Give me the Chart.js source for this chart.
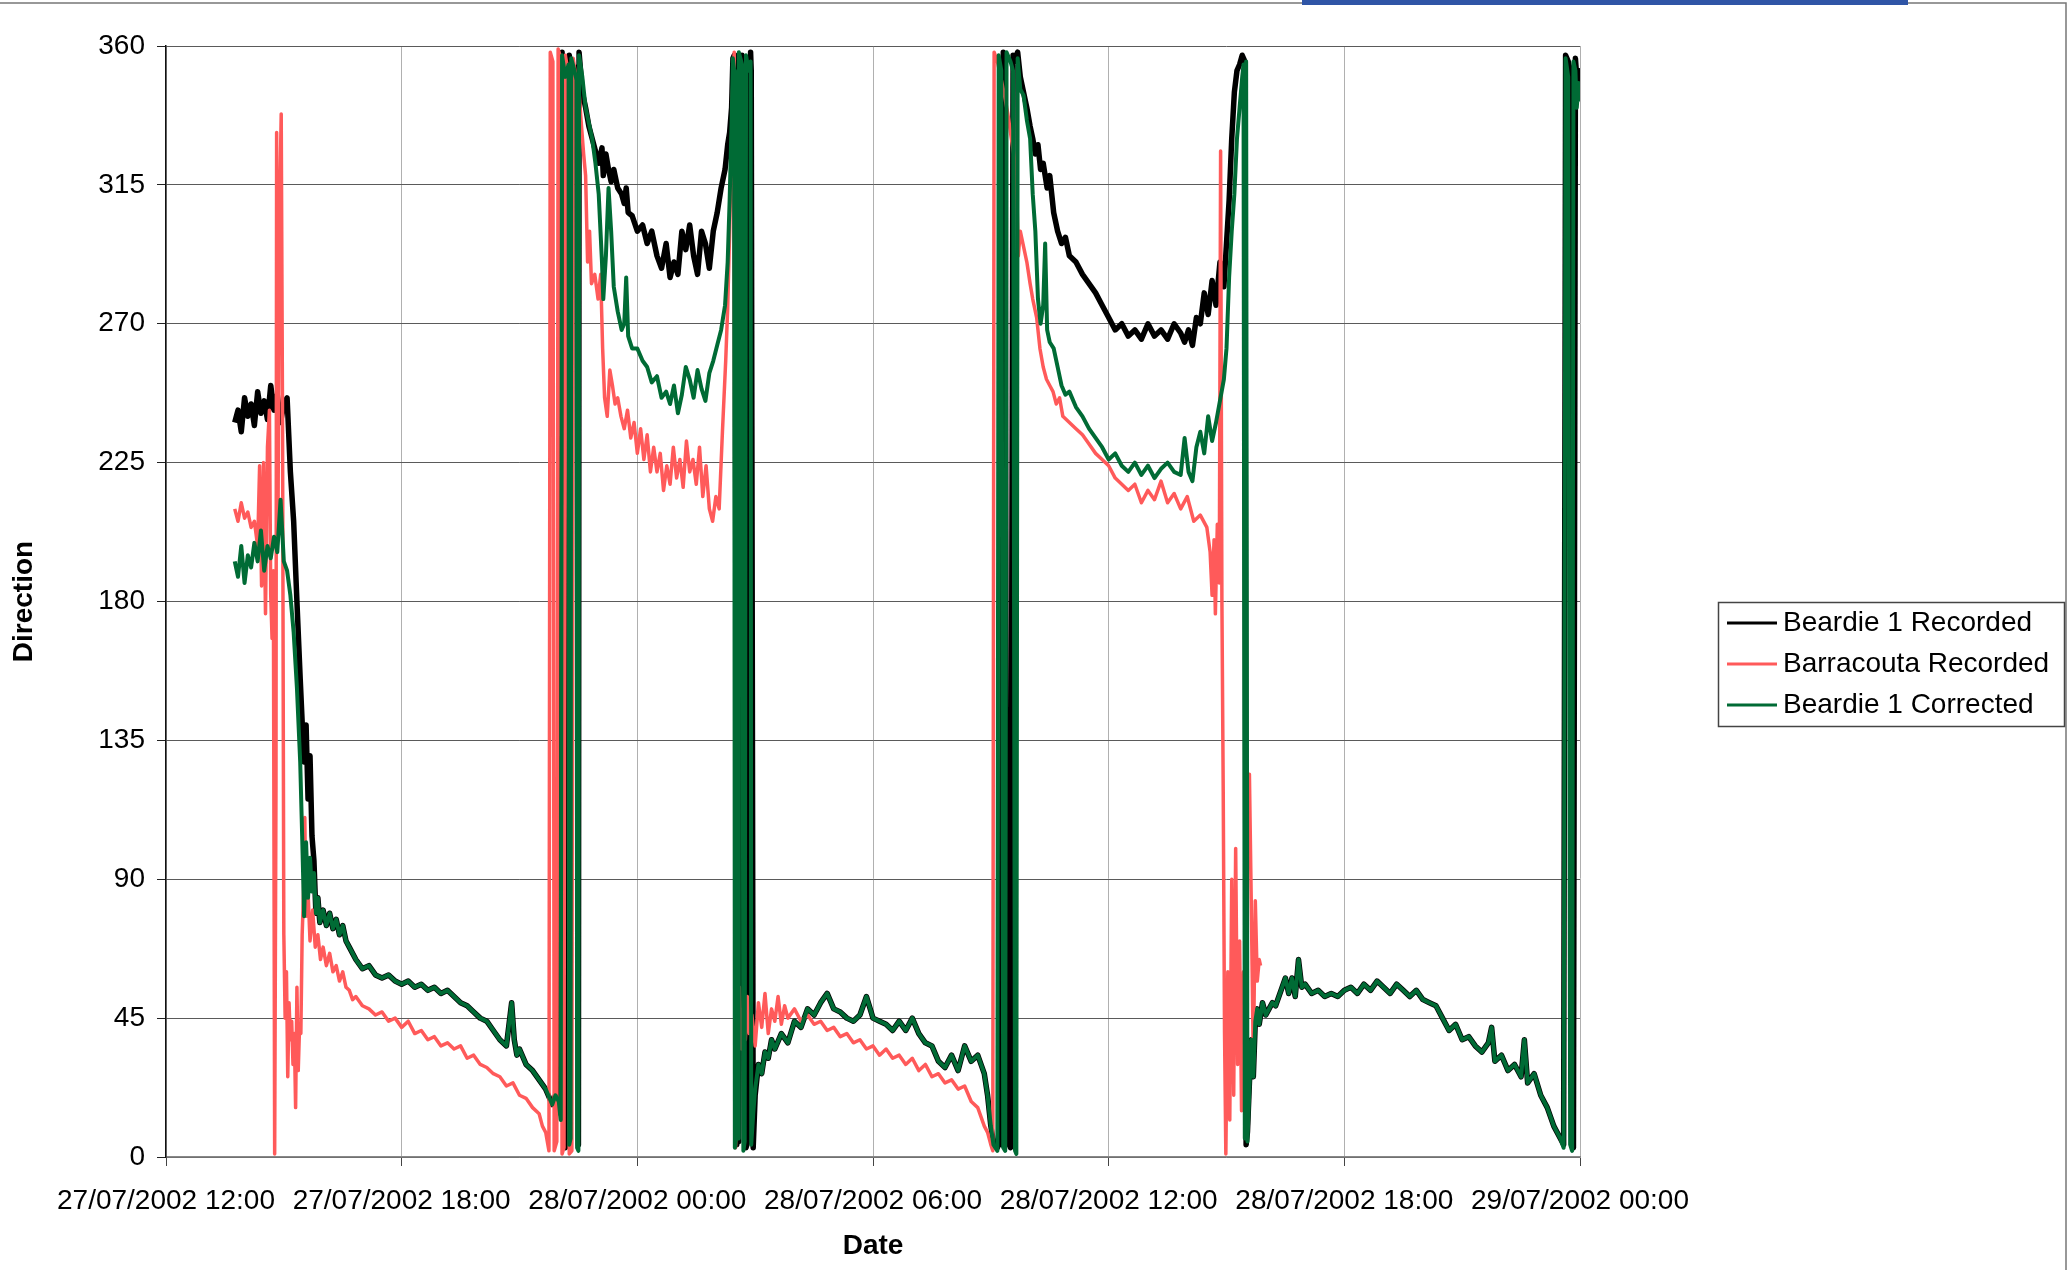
<!DOCTYPE html>
<html>
<head>
<meta charset="utf-8">
<script src="https://cdn.jsdelivr.net/npm/chart.js@4.4.1/dist/chart.umd.min.js"></script>
<style>
  html, body { margin: 0; padding: 0; background: #fff; }
  canvas { display: block; }
</style>
</head>
<body>
<canvas id="chart" width="2069" height="1275"></canvas>
<script>
// time is in minutes after 27/07/2002 12:00
const beardieMin = [
  105, 110, 115, 120, 125, 130, 135, 140, 145, 150,
  155, 160, 165, 170, 175, 180, 185, 190, 195, 200,
  205, 208, 211, 214, 217, 220, 223, 226, 229, 232,
  235, 240, 245, 250, 255, 260, 265, 270, 275, 280,
  290, 300, 310, 320, 330, 340, 350, 360, 370, 380,
  390, 400, 410, 420, 430, 440, 450, 460, 470, 480,
  490, 500, 510, 520, 528, 532, 536, 540, 550, 560,
  570, 580, 590, 595, 600, 603, 605, 610, 615, 616,
  618, 619, 624, 627, 628, 630, 631, 636, 641, 646,
  651, 656, 661, 666, 668, 672, 676, 680, 684, 690,
  696, 700, 703, 706, 712, 720, 728, 735, 742, 750,
  757, 764, 770, 776, 782, 788, 794, 800, 806, 812,
  818, 824, 830, 836, 842, 848, 854, 858, 861, 864,
  866, 868, 869, 872, 874, 875, 880, 882, 884, 886,
  890, 893, 894, 897, 900, 905, 910, 915, 920, 925,
  930, 940, 950, 960, 970, 980, 990, 1000, 1010, 1020,
  1030, 1040, 1050, 1060, 1070, 1080, 1090, 1100, 1110, 1120,
  1130, 1140, 1150, 1160, 1170, 1180, 1190, 1200, 1210, 1220,
  1230, 1240, 1250, 1255, 1260, 1264, 1270, 1272, 1276, 1279,
  1282, 1284, 1290, 1294, 1297, 1299, 1301, 1305, 1310, 1315,
  1320, 1324, 1328, 1332, 1336, 1340, 1343, 1346, 1350, 1356,
  1362, 1368, 1374, 1380, 1390, 1400, 1410, 1420, 1430, 1440,
  1450, 1460, 1470, 1480, 1490, 1500, 1510, 1520, 1530, 1540,
  1550, 1556, 1562, 1568, 1574, 1580, 1586, 1592, 1598, 1604,
  1610, 1616, 1620, 1624, 1628, 1632, 1636, 1640, 1644, 1646,
  1648, 1650, 1652, 1655, 1658, 1661, 1664, 1667, 1670, 1675,
  1680, 1685, 1690, 1695, 1700, 1705, 1710, 1715, 1720, 1725,
  1730, 1735, 1740, 1750, 1760, 1770, 1780, 1790, 1800, 1810,
  1820, 1830, 1840, 1850, 1860, 1870, 1880, 1890, 1900, 1910,
  1920, 1930, 1940, 1950, 1960, 1970, 1980, 1990, 2000, 2010,
  2020, 2025, 2030, 2040, 2050, 2060, 2070, 2075, 2080, 2090,
  2100, 2110, 2120, 2130, 2135, 2138, 2142, 2145, 2148, 2150,
  2153, 2155, 2158, 2160
];

const beardieRec = [
  238, 242, 235, 246, 240, 244, 237, 248, 241, 245,
  239, 250, 242, 247, 238, 244, 246, 222, 206, 180,
  155, 141, 128, 140, 116, 130, 104, 96, 79, 84,
  76, 80, 75, 79, 74, 77, 72, 75, 70, 68,
  64, 61, 62, 59, 58, 59, 57, 56, 57, 55,
  56, 54, 55, 53, 54, 52, 50, 49, 47, 45,
  44, 41, 38, 36, 50, 38, 33, 35, 30, 28,
  25, 22, 17, 20, 22, 14, 358, 3, 6, 357,
  354, 355, 350, 353, 351, 4, 358, 345, 340, 334,
  330, 326, 322, 327, 318, 325, 320, 316, 320, 314,
  312, 309, 314, 306, 305, 300, 302, 296, 300, 292,
  288, 296, 285, 290, 286, 300, 294, 302, 292, 286,
  300, 296, 288, 300, 306, 314, 320, 328, 332, 340,
  356, 357, 354, 4, 7, 5, 357, 355, 354, 3,
  6, 358, 352, 3, 20, 30, 27, 34, 32, 38,
  35, 40, 37, 44, 42, 48, 46, 50, 53, 48,
  47, 45, 44, 46, 52, 45, 44, 43, 41, 44,
  41, 45, 40, 37, 36, 31, 29, 33, 28, 36,
  31, 33, 27, 20, 10, 5, 3, 6, 4, 358,
  355, 6, 3, 357, 355, 357, 358, 350, 345, 340,
  334, 330, 325, 328, 320, 322, 318, 314, 318, 306,
  300, 296, 298, 292, 290, 286, 283, 280, 276, 272,
  268, 270, 266, 268, 265, 270, 266, 268, 265, 270,
  267, 264, 268, 263, 272, 270, 280, 273, 284, 276,
  290, 282, 296, 310, 330, 345, 352, 354, 357, 356,
  355, 4, 8, 24, 38, 26, 44, 48, 43, 50,
  46, 48, 50, 49, 52, 55, 58, 53, 58, 52,
  64, 55, 56, 53, 54, 52, 53, 52, 54, 55,
  53, 56, 54, 57, 55, 53, 56, 54, 52, 54,
  51, 50, 49, 45, 41, 43, 38, 39, 36, 34,
  37, 42, 31, 33, 28, 30, 26, 38, 24, 27,
  20, 16, 10, 6, 4, 357, 355, 352, 4, 3,
  356, 350, 352, 345
];

const beardieCor = [
  193, 188, 198, 186, 195, 191, 199, 193, 203, 190,
  198, 194, 201, 196, 213, 193, 190, 182, 170, 152,
  128, 104, 78, 102, 84, 97, 86, 92, 79, 84,
  76, 80, 75, 79, 74, 77, 72, 75, 70, 68,
  64, 61, 62, 59, 58, 59, 57, 56, 57, 55,
  56, 54, 55, 53, 54, 52, 50, 49, 47, 45,
  44, 41, 38, 36, 50, 38, 33, 35, 30, 28,
  25, 22, 17, 20, 18, 12, 357, 350, 354, 4,
  6, 356, 352, 349, 3, 2, 357, 350, 340, 335,
  330, 322, 312, 290, 278, 292, 314, 300, 282, 274,
  268, 270, 285, 266, 262, 262, 258, 256, 251, 253,
  246, 248, 244, 250, 241, 247, 256, 252, 246, 255,
  249, 245, 254, 258, 263, 268, 276, 290, 310, 335,
  356, 352, 3, 8, 6, 358, 354, 2, 5, 357,
  352, 355, 4, 14, 22, 30, 27, 34, 32, 38,
  35, 40, 37, 44, 42, 48, 46, 50, 53, 48,
  47, 45, 44, 46, 52, 45, 44, 43, 41, 44,
  41, 45, 40, 37, 36, 31, 29, 33, 28, 36,
  31, 33, 27, 20, 10, 4, 2, 357, 352, 3,
  2, 358, 355, 352, 2, 1, 356, 346, 344, 336,
  330, 312, 300, 278, 270, 276, 296, 268, 264, 262,
  256, 250, 247, 248, 243, 240, 236, 233, 230, 226,
  228, 224, 222, 225, 221, 224, 220, 223, 225, 222,
  221, 233, 222, 219, 230, 235, 228, 240, 232, 238,
  245, 252, 262, 285, 300, 312, 330, 340, 350, 354,
  6, 355, 5, 22, 38, 26, 44, 48, 43, 50,
  46, 48, 50, 49, 52, 55, 58, 53, 58, 52,
  64, 55, 56, 53, 54, 52, 53, 52, 54, 55,
  53, 56, 54, 57, 55, 53, 56, 54, 52, 54,
  51, 50, 49, 45, 41, 43, 38, 39, 36, 34,
  37, 42, 31, 33, 28, 30, 26, 38, 24, 27,
  20, 16, 10, 6, 3, 356, 350, 4, 2, 355,
  352, 340, 348, 342
];

const barraMin = [
  105, 110, 115, 120, 125, 130, 135, 140, 143, 146,
  149, 152, 155, 158, 160, 162, 164, 166, 168, 169,
  171, 173, 176, 178, 180, 182, 184, 186, 188, 190,
  192, 194, 196, 198, 200, 202, 204, 206, 208, 210,
  212, 214, 217, 220, 224, 228, 232, 236, 240, 245,
  250, 255, 260, 265, 270, 275, 280, 285, 290, 300,
  310, 320, 330, 340, 350, 360, 370, 380, 390, 400,
  410, 420, 430, 440, 450, 460, 470, 480, 490, 500,
  510, 520, 530, 540, 550, 560, 570, 575, 580, 585,
  587, 591, 593, 597, 599, 603, 605, 608, 610, 614,
  616, 620, 622, 626, 630, 634, 638, 641, 644, 647,
  650, 655, 660, 664, 667, 670, 674, 678, 682, 686,
  690, 695, 700, 705, 710, 715, 720, 725, 730, 735,
  740, 745, 750, 755, 760, 765, 770, 775, 780, 785,
  790, 795, 800, 805, 810, 815, 820, 825, 830, 835,
  840, 845, 850, 855, 858, 861, 864, 866, 868, 870,
  873, 876, 879, 882, 885, 888, 891, 895, 900, 905,
  910, 915, 920, 925, 930, 935, 940, 945, 950, 960,
  970, 980, 990, 1000, 1010, 1020, 1030, 1040, 1050, 1060,
  1070, 1080, 1090, 1100, 1110, 1120, 1130, 1140, 1150, 1160,
  1170, 1180, 1190, 1200, 1210, 1220, 1230, 1240, 1250, 1255,
  1260, 1263, 1265, 1270, 1275, 1280, 1286, 1290, 1295, 1299,
  1302, 1305, 1310, 1315, 1320, 1324, 1330, 1335, 1340, 1345,
  1350, 1355, 1360, 1365, 1370, 1380, 1390, 1400, 1410, 1420,
  1430, 1440, 1450, 1460, 1470, 1480, 1490, 1500, 1510, 1520,
  1530, 1540, 1550, 1560, 1570, 1580, 1590, 1595, 1598, 1601,
  1603, 1606, 1609, 1611, 1613, 1615, 1617, 1619, 1622, 1625,
  1628, 1631, 1634, 1637, 1640, 1643, 1646, 1649, 1652, 1655,
  1658, 1661, 1664, 1667, 1670, 1672
];

const barraDir = [
  210, 206, 212, 207, 209, 204, 206, 198, 224, 185,
  225, 176, 230, 242, 182, 168, 190, 1, 120, 332,
  200, 300, 338, 240, 72, 45, 60, 26, 50, 38,
  44, 30, 40, 16, 55, 28, 42, 40, 72, 85,
  110, 78, 86, 70, 80, 68, 72, 64, 68, 62,
  66, 60, 62, 57, 60, 55, 54, 51, 52, 49,
  48, 46, 47, 44, 45, 42, 44, 40, 41, 38,
  39, 36, 37, 35, 36, 32, 33, 30, 29, 27,
  26, 23, 24, 20, 19, 16, 14, 10, 8, 2,
  358, 355, 2, 5, 359, 356, 1, 3, 357, 352,
  1, 2, 356, 350, 348, 336, 325, 318, 290, 300,
  283, 286, 278, 286, 262, 246, 240, 255, 250, 244,
  246, 240, 236, 242, 233, 238, 228, 236, 226, 234,
  222, 230, 222, 228, 216, 224, 218, 230, 220, 226,
  217, 232, 222, 226, 218, 230, 214, 224, 210, 206,
  214, 210, 235, 258, 275, 300, 330, 350, 358, 3,
  30, 55, 35, 48, 38, 52, 40, 46, 36, 50,
  42, 53, 40, 48, 44, 52, 43, 49, 45, 48,
  44, 46, 43, 44, 41, 42, 39, 40, 37, 38,
  35, 36, 33, 35, 32, 33, 30, 32, 28, 30,
  26, 27, 24, 25, 22, 23, 18, 16, 10, 8,
  4, 2, 358, 355, 350, 345, 338, 332, 325, 318,
  292, 300, 295, 290, 283, 278, 272, 262, 256, 252,
  250, 248, 244, 246, 240, 238, 236, 234, 231, 228,
  226, 224, 220, 218, 216, 218, 212, 216, 213, 219,
  212, 215, 210, 214, 206, 208, 204, 196, 182, 200,
  176, 205, 186, 326, 180, 118, 40, 1, 60, 12,
  90, 20, 100, 30, 70, 15, 60, 22, 110, 124,
  80, 30, 83, 57, 64, 62
];

const xTickLabels = [
  '27/07/2002 12:00', '27/07/2002 18:00', '28/07/2002 00:00', '28/07/2002 06:00',
  '28/07/2002 12:00', '28/07/2002 18:00', '29/07/2002 00:00'
];

const seriesNames = ['Beardie 1 Recorded', 'Barracouta Recorded', 'Beardie 1 Corrected'];
const seriesColors = ['#000000', '#ff5a5a', '#006b35'];

const toPoints = (mins, vals) => mins.map((m, i) => ({ x: m, y: vals[i] }));

Chart.defaults.font.family = '"Liberation Sans", Arial, sans-serif';
Chart.defaults.color = '#000';

// legend drawn by hand so it sits where the old excel one did, plus the page frame
const legendBox = {
  id: 'legendBox',
  afterDraw(chart) {
    const ctx = chart.ctx;
    ctx.save();
    // scanned page frame + the blue pen mark at the top
    ctx.strokeStyle = '#777';
    ctx.lineWidth = 1.5;
    ctx.beginPath();
    ctx.moveTo(0, 3);
    ctx.lineTo(2066, 3);
    ctx.lineTo(2066, 1270);
    ctx.stroke();
    ctx.fillStyle = '#2f55a6';
    ctx.fillRect(1302, 0, 606, 5);

    ctx.strokeStyle = '#444';
    ctx.lineWidth = 1.5;
    ctx.strokeRect(1718.5, 602.5, 346, 124);
    ctx.font = '28px "Liberation Sans", Arial, sans-serif';
    ctx.textBaseline = 'middle';
    ctx.textAlign = 'left';
    chart.data.datasets.forEach((ds, i) => {
      const y = 623 + i * 41;
      ctx.strokeStyle = ds.borderColor;
      ctx.lineWidth = 3;
      ctx.beginPath();
      ctx.moveTo(1727, y);
      ctx.lineTo(1777, y);
      ctx.stroke();
      ctx.fillStyle = '#000';
      ctx.fillText(ds.label, 1783, y);
    });
    ctx.restore();
  }
};

const ctx = document.getElementById('chart').getContext('2d');
const myChart = new Chart(ctx, {
  type: 'line',
  data: {
    datasets: [
      {
        label: seriesNames[0],
        data: toPoints(beardieMin, beardieRec),
        borderColor: seriesColors[0],
        borderWidth: 5.5,
        order: 2
      },
      {
        label: seriesNames[1],
        data: toPoints(barraMin, barraDir),
        borderColor: seriesColors[1],
        borderWidth: 3.5,
        order: 1
      },
      {
        label: seriesNames[2],
        data: toPoints(beardieMin, beardieCor),
        borderColor: seriesColors[2],
        borderWidth: 4,
        order: 0
      }
    ]
  },
  options: {
    responsive: false,
    animation: false,
    devicePixelRatio: 1,
    layout: {
      padding: { top: 46, right: 489, bottom: 0, left: 0 }
    },
    elements: {
      point: { radius: 0 },
      line: { tension: 0, borderJoinStyle: 'round', fill: false }
    },
    scales: {
      x: {
        type: 'linear',
        min: 0,
        max: 2160,
        afterFit: (s) => { s.height = 118; },
        ticks: {
          stepSize: 360,
          autoSkip: false,
          maxRotation: 0,
          padding: 18,
          font: { size: 28 },
          callback: (v, i) => xTickLabels[i]
        },
        grid: { color: '#b0b0b0', lineWidth: 1, tickLength: 9, tickColor: '#444' },
        border: { color: '#888', width: 1.5 },
        title: {
          display: true,
          text: 'Date',
          font: { size: 28, weight: 'bold' },
          padding: { top: 0, bottom: 12 }
        }
      },
      y: {
        min: 0,
        max: 360,
        afterFit: (s) => { s.width = 166; },
        ticks: {
          stepSize: 45,
          padding: 12,
          font: { size: 28 }
        },
        grid: { color: '#5a5a5a', lineWidth: 1, tickLength: 9, tickColor: '#222' },
        border: { color: '#111', width: 1.5 },
        title: {
          display: true,
          text: 'Direction',
          font: { size: 28, weight: 'bold' },
          padding: { top: 7, bottom: 0 }
        }
      }
    },
    plugins: {
      legend: { display: false },
      tooltip: { enabled: false }
    }
  },
  plugins: [legendBox]
});
</script>
</body>
</html>
